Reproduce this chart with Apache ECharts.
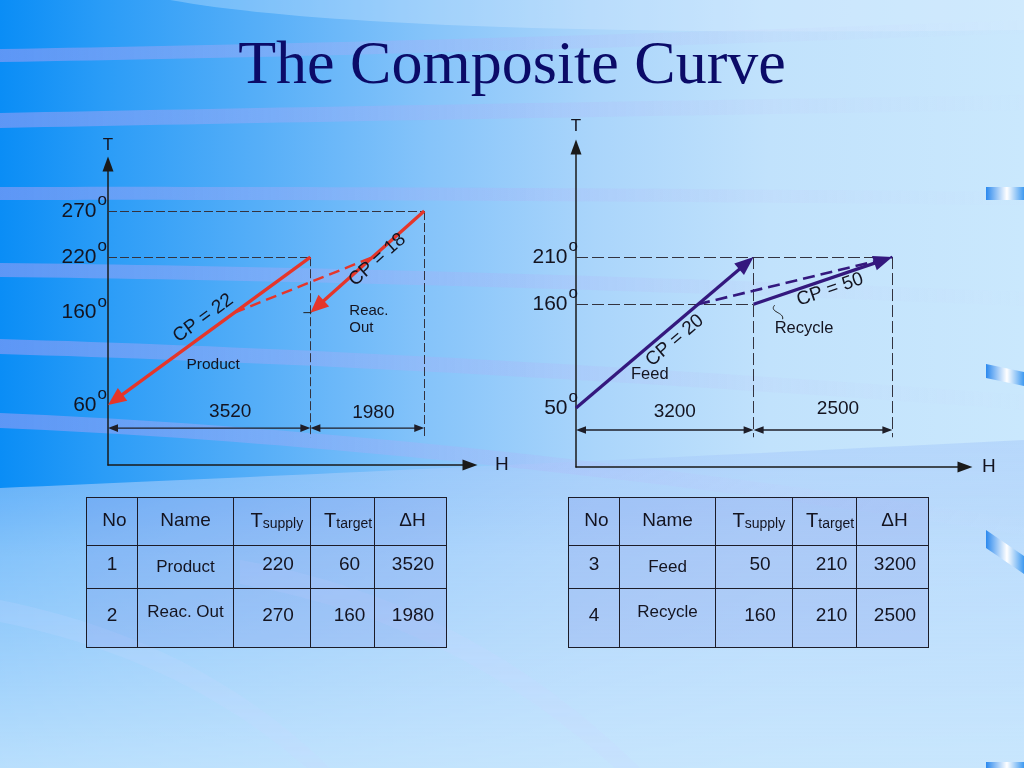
<!DOCTYPE html>
<html>
<head>
<meta charset="utf-8">
<title>The Composite Curve</title>
<script src="https://cdn.jsdelivr.net/npm/echarts@6/dist/echarts.min.js"></script>
<style>
html,body{margin:0;padding:0;width:1024px;height:768px;overflow:hidden;}
body{
 background: linear-gradient(90deg, #0a8df6 0%, #2a9cf7 10%, #55aef8 25%, #86c4fa 42%, #aad5fb 58%, #c1e2fc 75%, #cae8fd 100%);
}
#chart{position:absolute;left:0;top:0;width:1024px;height:768px;}
table.st{position:absolute;top:497px;width:360px;border-collapse:collapse;table-layout:fixed;font-family:'Liberation Sans',Arial,sans-serif;color:#141420;background:rgba(96,112,226,0.16);}
table.st td{border:1.5px solid #1c1c28;text-align:center;vertical-align:top;padding:0;font-size:19px;line-height:22px;white-space:nowrap;overflow:visible;}
table.st td.nm{font-size:17px;line-height:20px;}
table.st sub{font-size:14px;vertical-align:-1px;line-height:0;}
table.st .big{font-size:20px;}
</style>
</head>
<body>
<div id="chart"></div>
<table class="st" id="tHot"></table>
<table class="st" id="tCold"></table>
<script>
// ---------------- data ----------------
const titleText = 'The Composite Curve';
const headers = ['No', 'Name', 'T|supply', 'T|target', 'ΔH'];

const hotNo = [1, 2];
const hotNames = ['Product', 'Reac. Out'];
const hotTSupply = [220, 270];
const hotTTarget = [60, 160];
const hotDH = [3520, 1980];
const hotCP = [22, 18];
const hotComposite = [[2200, 160], [4600, 220]];
const hotTicks = [60, 160, 220, 270];

const coldNo = [3, 4];
const coldNames = ['Feed', 'Recycle'];
const coldTSupply = [50, 160];
const coldTTarget = [210, 210];
const coldDH = [3200, 2500];
const coldCP = [20, 50];
const coldComposite = [[2200, 160], [5700, 210]];
const coldTicks = [50, 160, 210];

// ---------------- layout / style ----------------
const FONT = "'Liberation Sans', Arial, sans-serif";
const RED = '#e5362a', PURPLE = '#34187e', INK = '#141420', GUIDE = '#33333f';
const LL = {grid:{left:108, top:164, width:362, height:301}, x:[0, 6296], y:[-4.95, 320.9], guideBottom:25, dimT:35};
const RR = {grid:{left:576, top:147, width:389, height:320}, x:[0, 7009], y:[-12.5, 326.6], guideBottom:19, dimT:26.7};
const hotStyle = [
  {cp:[-6, -13], name:[4, 34], fs:15.5},
  {cp:[10, -2], name:[-18, 58], fs:15, align:'left', wrap:true, tick:true}
];
const coldStyle = [
  {cp:[10, 8], name:[-15, 42], fs:16.5},
  {cp:[7, 9], name:[-19, 48], fs:16.5, leader:true}
];
const hotDimOff = [[21, -16], [6, -15]];
const coldDimOff = [[10, -18], [15, -21]];

// ---------------- derived geometry ----------------
const startsOf = a => a.map((v, i) => a.slice(0, i).reduce((s, x) => s + x, 0));
const hotStart = startsOf(hotDH), coldStart = startsOf(coldDH);
const hotSeg = hotDH.map((d, i) => [hotStart[i] + d, hotTSupply[i], hotStart[i], hotTTarget[i]]);
const coldSeg = coldDH.map((d, i) => [coldStart[i], coldTSupply[i], coldStart[i] + d, coldTTarget[i]]);
const hotDims = hotDH.map((d, i) => [hotStart[i], LL.dimT, hotStart[i] + d, LL.dimT, d]);
const coldDims = coldDH.map((d, i) => [coldStart[i], RR.dimT, coldStart[i] + d, RR.dimT, d]);

const hotGuides = [];
hotDH.forEach((d, i) => {
  const e = hotStart[i] + d;
  hotGuides.push({coords:[[0, hotTSupply[i]], [e, hotTSupply[i]]]});
  hotGuides.push({coords:[[e, hotTSupply[i]], [e, LL.guideBottom]]});
});
const coldGuides = [];
coldDH.forEach((d, i) => {
  const e = coldStart[i] + d;
  coldGuides.push({coords:[[0, coldTTarget[i]], [e, coldTTarget[i]]]});
  coldGuides.push({coords:[[e, coldTTarget[i]], [e, RR.guideBottom]]});
  if (coldStart[i] > 0) coldGuides.push({coords:[[0, coldTSupply[i]], [coldStart[i], coldTSupply[i]]]});
});

// ---------------- renderers ----------------
function arrowEls(p1, p2, o) {
  const dx = p2[0] - p1[0], dy = p2[1] - p1[1], len = Math.hypot(dx, dy);
  const ux = dx / len, uy = dy / len, nx = -uy, ny = ux;
  const els = [];
  let a = p1, b = p2;
  const head = (tip, sx, sy) => {
    const bx = tip[0] - sx * o.len, by = tip[1] - sy * o.len;
    return {type:'polygon', shape:{points:[[tip[0], tip[1]], [bx + nx * o.hw, by + ny * o.hw], [bx - nx * o.hw, by - ny * o.hw]]}, style:{fill:o.color}};
  };
  if (o.end) { els.push(head(p2, ux, uy)); b = [p2[0] - ux * o.len * 0.7, p2[1] - uy * o.len * 0.7]; }
  if (o.start) { els.push(head(p1, -ux, -uy)); a = [p1[0] + ux * o.len * 0.7, p1[1] + uy * o.len * 0.7]; }
  els.unshift({type:'line', shape:{x1:a[0], y1:a[1], x2:b[0], y2:b[1]}, style:{stroke:o.color, lineWidth:o.width}});
  return els;
}
function makeStreamRender(names, cps, styles, color, headLen, headHw) {
  return function (params, api) {
    const i = params.dataIndex, st = styles[i];
    const p1 = api.coord([api.value(0), api.value(1)]);
    const p2 = api.coord([api.value(2), api.value(3)]);
    const els = arrowEls(p1, p2, {color:color, width:3.3, len:headLen, hw:headHw, end:true});
    const mx = (p1[0] + p2[0]) / 2, my = (p1[1] + p2[1]) / 2;
    let ang = Math.atan2(p1[1] - p2[1], p2[0] - p1[0]);
    if (ang > Math.PI / 2) ang -= Math.PI;
    if (ang < -Math.PI / 2) ang += Math.PI;
    els.push({type:'text', x:mx + st.cp[0], y:my + st.cp[1], rotation:ang,
      style:{text:'CP = ' + cps[i], fontSize:19, fontFamily:FONT, fill:INK, align:'center', verticalAlign:'middle'}});
    els.push({type:'text', x:mx + st.name[0], y:my + st.name[1],
      style:{text:st.wrap ? names[i].replace(' ', '\n') : names[i], fontSize:st.fs, lineHeight:17, fontFamily:FONT, fill:INK, align:st.align || 'center', verticalAlign:'middle'}});
    if (st.tick) els.push({type:'line', shape:{x1:p2[0] - 7, y1:p2[1], x2:p2[0] + 1, y2:p2[1]}, style:{stroke:'#222', lineWidth:1}});
    if (st.leader) els.push({type:'bezierCurve', shape:{x1:p1[0] + 21, y1:p1[1] + 1, cpx1:p1[0] + 15, cpy1:p1[1] + 8, cpx2:p1[0] + 31, cpy2:p1[1] + 8, x2:p1[0] + 29, y2:p1[1] + 15}, style:{stroke:'#222', lineWidth:1, fill:null}});
    return {type:'group', children:els};
  };
}
function makeDimRender(offs) {
  return function (params, api) {
    const i = params.dataIndex;
    const p1 = api.coord([api.value(0), api.value(1)]), p2 = api.coord([api.value(2), api.value(3)]);
    const els = arrowEls(p1, p2, {color:'#1e1e28', width:1.3, len:10, hw:3.8, start:true, end:true});
    els.push({type:'text', x:(p1[0] + p2[0]) / 2 + offs[i][0], y:p1[1] + offs[i][1],
      style:{text:String(api.value(4)), fontSize:19, fontFamily:FONT, fill:INK, align:'center', verticalAlign:'middle'}});
    return {type:'group', children:els};
  };
}

// ---------------- axes ----------------
const degRich = {
  n:{fontSize:21, lineHeight:38, color:INK, fontFamily:FONT},
  d:{fontSize:17, lineHeight:15, verticalAlign:'top', color:INK, fontFamily:FONT, padding:[0, 0, 0, 1]}
};
const axisLineStyle = {color:'#1a1a1a', width:1.5};
function xAx(g, range, gap) {
  return {gridIndex:g, type:'value', min:range[0], max:range[1], name:'H', nameLocation:'end', nameGap:gap,
    nameTextStyle:{fontSize:19, color:INK, fontFamily:FONT},
    axisLine:{show:true, onZero:false, symbol:['none', 'triangle'], symbolSize:[11, 15], lineStyle:axisLineStyle},
    axisTick:{show:false}, axisLabel:{show:false}, splitLine:{show:false}};
}
function yAx(g, range, gap, ticks, margin) {
  return {gridIndex:g, type:'value', min:range[0], max:range[1], name:'T', nameLocation:'end', nameGap:gap,
    nameTextStyle:{fontSize:17, color:INK, fontFamily:FONT},
    axisLine:{show:true, onZero:false, symbol:['none', 'triangle'], symbolSize:[11, 15], lineStyle:axisLineStyle},
    axisTick:{show:false}, splitLine:{show:false},
    axisLabel:{show:true, customValues:ticks, margin:margin, formatter:v => '{n|' + v + '}{d|o}', rich:degRich}};
}

// ---------------- background decoration (polygons) ----------------
function quadPts(x0, y0, cx, cy, x1, y1, n) {
  const pts = [];
  for (let k = 0; k <= n; k++) {
    const t = k / n, u = 1 - t;
    pts.push([u * u * x0 + 2 * u * t * cx + t * t * x1, u * u * y0 + 2 * u * t * cy + t * t * y1]);
  }
  return pts;
}
function bandPoly(x0, y0, cx, cy, x1, y1, th) {
  const top = quadPts(x0, y0, cx, cy, x1, y1, 40);
  const bot = quadPts(x0, y0 + th, cx, cy + th, x1, y1 + th, 40).reverse();
  return top.concat(bot);
}
const bandFill = {type:'linear', x:0, y:0, x2:1, y2:0, colorStops:[
  {offset:0, color:'rgba(170,160,245,0.52)'}, {offset:0.5, color:'rgba(175,175,248,0.26)'}, {offset:1, color:'rgba(205,220,255,0.04)'}]};
const bands = [[49, 42, 20, 13], [113, 104, 95, 15], [187, 186, 192, 13], [263, 268, 292, 14], [339, 352, 395, 15], [413, 432, 520, 15]];
const decor = [];
// lighter lower area with a curved upper edge
decor.push({type:'polygon', z:-101, silent:true,
  shape:{points:quadPts(0, 488, 420, 470, 1024, 440, 40).concat([[1024, 768], [0, 768]])},
  style:{fill:{type:'linear', x:0, y:0, x2:0, y2:1, colorStops:[
    {offset:0, color:'rgba(165,200,250,0.5)'}, {offset:0.35, color:'rgba(185,218,252,0.7)'}, {offset:1, color:'rgba(200,230,253,0.92)'}]}}});
decor.push({type:'polygon', z:-100, silent:true, shape:{points:[[170, 0]].concat(quadPts(170, 0, 380, 38, 1024, 30, 40)).concat([[1024, 0]])}, style:{fill:'rgba(222,240,255,0.3)'}});
bands.forEach(b => {
  decor.push({type:'polygon', z:-99, silent:true, shape:{points:bandPoly(0, b[0], 450, b[1], 1024, b[2], b[3])}, style:{fill:bandFill}});
});
decor.push({type:'polygon', z:-99, silent:true, shape:{points:bandPoly(240, 560, 470, 600, 640, 768, 24)}, style:{fill:'rgba(200,215,255,0.22)'}});
decor.push({type:'polygon', z:-99, silent:true, shape:{points:bandPoly(0, 600, 200, 640, 330, 768, 22)}, style:{fill:'rgba(200,215,255,0.2)'}});
const tabFill = {type:'linear', x:0, y:0, x2:1, y2:0, colorStops:[{offset:0, color:'#2a88ee'}, {offset:0.55, color:'#ffffff'}, {offset:1, color:'#3f9af1'}]};
[[[986,187],[1024,187],[1024,200],[986,200]], [[986,364],[1024,372],[1024,386],[986,378]],
 [[986,530],[1024,556],[1024,574],[986,548]], [[986,762],[1024,762],[1024,768],[986,768]]].forEach(p => {
  decor.push({type:'polygon', z:-98, silent:true, shape:{points:p}, style:{fill:tabFill}});
});
decor.push({type:'text', x:512, y:67, silent:true,
  style:{text:titleText, fontSize:62, fontFamily:"'Liberation Serif', 'Times New Roman', serif", fill:'#0b0b68', align:'center', verticalAlign:'middle'}});

// ---------------- chart ----------------
const chart = echarts.init(document.getElementById('chart'), null, {renderer:'canvas'});
const lineBase = {type:'lines', coordinateSystem:'cartesian2d', silent:true, symbol:['none', 'none']};
chart.setOption({
  backgroundColor:'transparent',
  animation:false,
  graphic:{elements:decor},
  grid:[LL.grid, RR.grid],
  xAxis:[xAx(0, LL.x, 25), xAx(1, RR.x, 17)],
  yAxis:[yAx(0, LL.y, 10, hotTicks, 1), yAx(1, RR.y, 12, coldTicks, -2)],
  series:[
    Object.assign({}, lineBase, {xAxisIndex:0, yAxisIndex:0, z:2, lineStyle:{color:GUIDE, width:1, type:[9, 3], opacity:1}, data:hotGuides}),
    Object.assign({}, lineBase, {xAxisIndex:1, yAxisIndex:1, z:2, lineStyle:{color:GUIDE, width:1, type:[12, 4], opacity:1}, data:coldGuides}),
    Object.assign({}, lineBase, {xAxisIndex:0, yAxisIndex:0, z:3, lineStyle:{color:RED, width:2.4, type:[11, 6], opacity:1}, data:[{coords:hotComposite}]}),
    Object.assign({}, lineBase, {xAxisIndex:1, yAxisIndex:1, z:3, lineStyle:{color:PURPLE, width:2.6, type:[12, 6], opacity:1}, data:[{coords:coldComposite}]}),
    {type:'custom', coordinateSystem:'cartesian2d', xAxisIndex:0, yAxisIndex:0, z:4, silent:true, data:hotDims, renderItem:makeDimRender(hotDimOff)},
    {type:'custom', coordinateSystem:'cartesian2d', xAxisIndex:1, yAxisIndex:1, z:4, silent:true, data:coldDims, renderItem:makeDimRender(coldDimOff)},
    {type:'custom', coordinateSystem:'cartesian2d', xAxisIndex:0, yAxisIndex:0, z:5, silent:true, data:hotSeg, renderItem:makeStreamRender(hotNames, hotCP, hotStyle, RED, 18, 8)},
    {type:'custom', coordinateSystem:'cartesian2d', xAxisIndex:1, yAxisIndex:1, z:5, silent:true, data:coldSeg, renderItem:makeStreamRender(coldNames, coldCP, coldStyle, PURPLE, 19, 7.5)}
  ]
});

// ---------------- tables ----------------
const colW = [51, 96, 77, 64, 72];
function headCell(h) {
  if (h.indexOf('|') >= 0) { const p = h.split('|'); return '<span class="big">' + p[0] + '</span><sub>' + p[1] + '</sub>'; }
  return h;
}
function buildTable(id, left, nos, names, ts, tt, dh) {
  const t = document.getElementById(id);
  t.style.left = left + 'px';
  const padL = [0, 0, 12, 14, 5];
  let h = '<colgroup>' + colW.map(w => '<col style="width:' + w + 'px">').join('') + '</colgroup>';
  h += '<tr style="height:48px">' + headers.map((x, j) => '<td style="padding:11px 0 0 ' + (j === 0 ? 5 : padL[j] * 0.8) + 'px">' + headCell(x) + '</td>').join('') + '</tr>';
  const rowH = [43, 59], padN = [7, 15], padT = [11, 13];
  nos.forEach((n, i) => {
    const cells = [n, names[i], ts[i], tt[i], dh[i]];
    h += '<tr style="height:' + rowH[i] + 'px">' + cells.map((c, j) =>
      '<td class="' + (j === 1 ? 'nm' : '') + '" style="padding:' + (j === 1 ? padT[i] : padN[i]) + 'px 0 0 ' + padL[j] + 'px">' + c + '</td>').join('') + '</tr>';
  });
  t.innerHTML = h;
}
buildTable('tHot', 86, hotNo, hotNames, hotTSupply, hotTTarget, hotDH);
buildTable('tCold', 568, coldNo, coldNames, coldTSupply, coldTTarget, coldDH);
</script>
</body>
</html>
